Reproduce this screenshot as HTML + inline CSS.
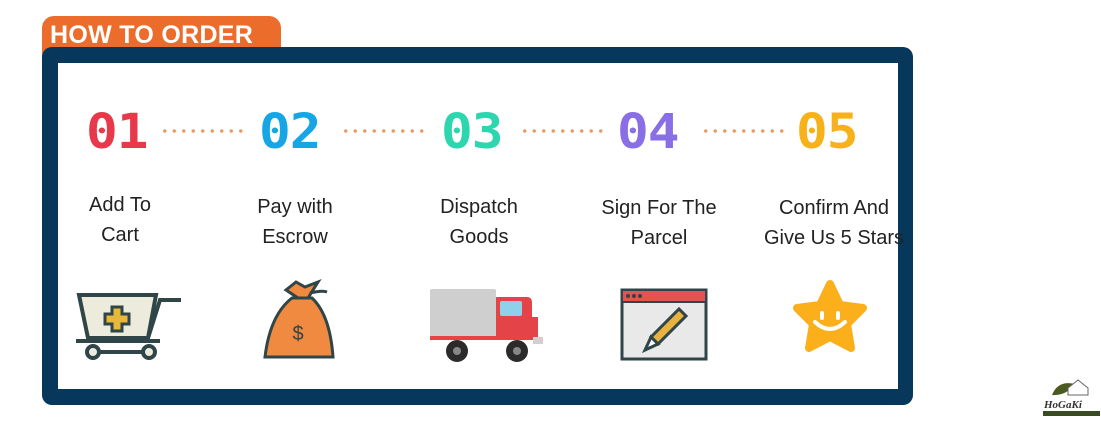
<!DOCTYPE html>
<html><head><meta charset="utf-8"><style>
body{margin:0;width:1101px;height:434px;background:#fff;position:relative;overflow:hidden;font-family:"Liberation Sans",sans-serif}
.tab{position:absolute;left:42px;top:16px;width:239px;height:40px;background:#ec6c2c;border-radius:12px 12px 0 0;color:#fff;font-weight:bold;font-size:25px;line-height:38px;padding-left:8px;box-sizing:border-box;letter-spacing:0.3px}
.frame{position:absolute;left:42px;top:47px;width:871px;height:358px;background:#07375a;border-radius:10px}
.inner{position:absolute;left:58px;top:63px;width:840px;height:326px;background:#fff}
.num{position:absolute;top:104px;font:bold 48px "DejaVu Sans Mono","Liberation Mono",monospace;transform-origin:left top;transform:scaleX(1.1);letter-spacing:-1px}
.dots{position:absolute;top:129px;height:4px;background:radial-gradient(circle,#e99a62 1.5px,transparent 2px) 0 0/9.5px 4px repeat-x}
.lbl{position:absolute;width:160px;text-align:center;font-size:20px;line-height:30px;color:#222}
</style></head><body>
<div class="tab">HOW TO ORDER</div>
<div class="frame"></div>
<div class="inner"></div>
<div class="num" style="left:86px;color:#e8394a">01</div>
<div class="num" style="left:259px;color:#16a6e6">02</div>
<div class="num" style="left:441px;color:#2ed6b0">03</div>
<div class="num" style="left:617px;color:#8a6ee6">04</div>
<div class="num" style="left:796px;color:#f7b21a">05</div>
<div class="dots" style="left:160px;width:86px"></div>
<div class="dots" style="left:341px;width:86px"></div>
<div class="dots" style="left:520px;width:88px"></div>
<div class="dots" style="left:701px;width:86px"></div>
<div class="lbl" style="left:40px;top:190px">Add To<br>Cart</div>
<div class="lbl" style="left:215px;top:192px">Pay with<br>Escrow</div>
<div class="lbl" style="left:399px;top:192px">Dispatch<br>Goods</div>
<div class="lbl" style="left:579px;top:193px">Sign For The<br>Parcel</div>
<div class="lbl" style="left:749px;top:193px;width:170px">Confirm And<br>Give Us 5 Stars</div>
<svg style="position:absolute;left:0;top:0" width="1101" height="434">
<g stroke="#2f4548" stroke-width="4" fill="none">
<path d="M79 295 L156 295 L148 338 L88 338 Z" fill="#ecebdc"/>
<path d="M148 338 L160 300 L181 300"/>
<path d="M76 341 L160 341"/>
<path d="M90 352 L150 352"/>
<circle cx="93" cy="352" r="6" fill="#ecebdc"/>
<circle cx="149" cy="352" r="6" fill="#ecebdc"/>
<path d="M112 307 h10 v7 h7 v10 h-7 v7 h-10 v-7 h-7 v-10 h7 Z" fill="#e8b83a" stroke-width="3"/>
</g>
<g stroke="#2f4548" stroke-width="3">
<path d="M286 290 L298 298 L308 298 L318 282 L305 287 L296 282 Z" fill="#ef8a40"/>
<path d="M310 293 Q322 290 327 292" fill="none"/>
<path d="M292 298 Q270 315 265 357 L333 357 Q330 315 312 298 Z" fill="#ef8a40"/>
<text x="298" y="340" font-size="20" fill="#2f4548" stroke="none" text-anchor="middle" font-family="Liberation Sans">$</text>
</g>
<rect x="430" y="289" width="66" height="48" rx="2" fill="#cfcfcf"/>
<path d="M496 297 H527 Q532 297 532 303 V317 H538 V340 H430 V336 H496 Z" fill="#e44447"/>
<rect x="500" y="301" width="22" height="15" rx="2" fill="#8fd0ea"/>
<rect x="533" y="337" width="10" height="7" fill="#d0d0d0"/>
<circle cx="457" cy="351" r="11" fill="#2b2b2b"/><circle cx="457" cy="351" r="4" fill="#888"/>
<circle cx="517" cy="351" r="11" fill="#2b2b2b"/><circle cx="517" cy="351" r="4" fill="#888"/>
<rect x="622" y="290" width="84" height="69" fill="#e9e9e9" stroke="#2f4548" stroke-width="3"/>
<rect x="623" y="291" width="82" height="10" fill="#e5534f"/>
<line x1="622" y1="302" x2="706" y2="302" stroke="#2f4548" stroke-width="2"/>
<circle cx="628" cy="296" r="2" fill="#2f4548"/><circle cx="634" cy="296" r="2" fill="#2f4548"/><circle cx="640" cy="296" r="2" fill="#2f4548"/>
<path d="M651 337 L679 309 L686 316 L658 344 Z" fill="#e8b240" stroke="#2f4548" stroke-width="3"/>
<path d="M651 337 L645 350 L658 344 Z" fill="#fff" stroke="#2f4548" stroke-width="3"/>
<path d="M830 284 L840 305 L863 308 L847 324 L851 348 L830 337 L809 348 L813 324 L797 308 L820 305 Z" fill="#fbb01b" stroke="#fbb01b" stroke-width="8" stroke-linejoin="round"/>
<rect x="820" y="311" width="4" height="9" rx="2" fill="#fff"/><rect x="836" y="311" width="4" height="9" rx="2" fill="#fff"/>
<path d="M815 322 Q830 336 845 322" stroke="#fff" stroke-width="4" fill="none" stroke-linecap="round"/>
<path d="M1052 395 Q1058 380 1075 384 Q1066 396 1052 395 Z" fill="#4a5a20"/>
<path d="M1068 388 L1078 380 L1088 388 V395 H1068 Z" fill="#fff" stroke="#666" stroke-width="1"/>
<text x="1044" y="408" font-size="11" font-style="italic" font-weight="bold" fill="#333" font-family="Liberation Serif">HoGaKi</text>
<rect x="1043" y="411" width="57" height="5" fill="#3a4a22"/>
</svg>
</body></html>
